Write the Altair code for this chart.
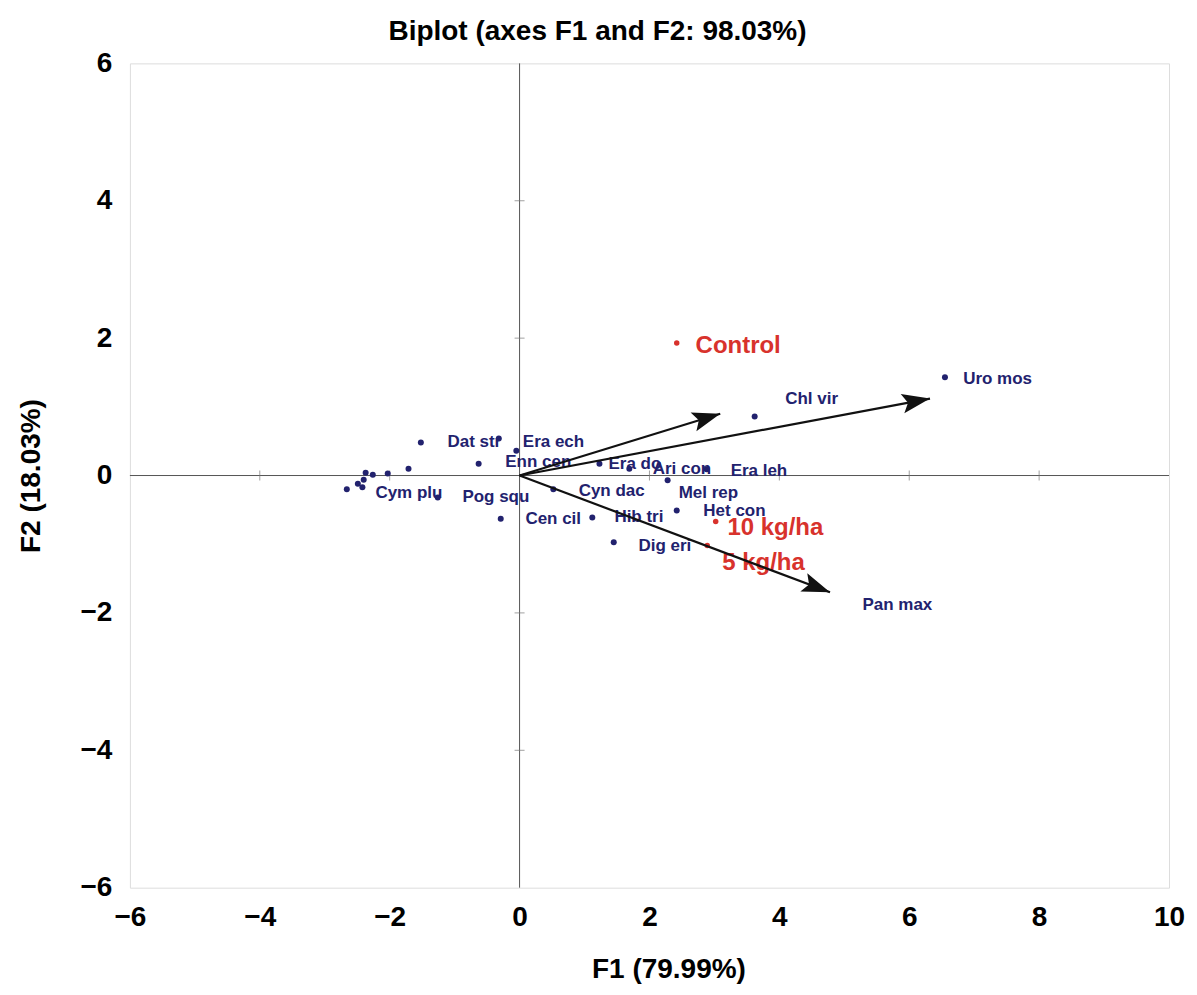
import math
import altair as alt
import pandas as pd

# ---- data ----
sp_names = ["Uro mos", "Chl vir", "Dat str", "Era ech", "Enn cen", "Era do", "Ari con",
            "Era leh", "Cym plu", "Pog squ", "Cyn dac", "Mel rep", "Cen cil", "Hib tri",
            "Het con", "Dig eri", "Pan max"]
sp_label_x = [6.83, 4.09, -1.11, 0.05, -0.22, 1.37, 2.05, 3.25, -2.22, -0.88, 0.91, 2.45,
              0.09, 1.46, 2.83, 1.83, 5.28]
sp_label_y = [1.40, 1.12, 0.49, 0.49, 0.19, 0.17, 0.09, 0.06, -0.26, -0.31, -0.22, -0.26,
              -0.63, -0.61, -0.51, -1.02, -1.88]

# species observation dots
dot_x = [6.55, 3.62, -1.52, -0.32, -0.05, -0.63, 1.23, 1.69, 2.88, -1.26, 0.52, 2.28,
         -0.29, 1.12, 2.42, 1.45,
         -2.66, -2.49, -2.42, -2.40, -2.37, -2.26, -2.03, -1.71]
dot_y = [1.43, 0.86, 0.48, 0.54, 0.36, 0.17, 0.17, 0.10, 0.09, -0.32, -0.20, -0.07,
         -0.63, -0.61, -0.51, -0.97,
         -0.20, -0.12, -0.17, -0.06, 0.04, 0.01, 0.03, 0.10]

# treatments (red)
tr_names = ["Control", "10 kg/ha", "5 kg/ha"]
tr_x = [2.42, 3.02, 2.89]
tr_y = [1.93, -0.67, -1.02]
tr_label_x = [2.71, 3.20, 3.12]
tr_label_y = [1.88, -0.77, -1.28]

# variable vectors (arrows from origin)
arrow_x = [3.09, 6.32, 4.78]
arrow_y = [0.90, 1.12, -1.70]

x_ticks = [-6, -4, -2, 0, 2, 4, 6, 8, 10]
y_ticks = [-6, -4, -2, 0, 2, 4, 6]
inner_x_ticks = [-4, -2, 2, 4, 6, 8]
inner_y_ticks = [-4, -2, 2, 4]

W, H = 1040, 825
XD, YD = (-6, 10), (-6, 6)
NAVY = "#22226e"
RED = "#d8322c"
FONT = "Liberation Sans"

xs = alt.Scale(domain=list(XD), nice=False, zero=False)
ys = alt.Scale(domain=list(YD), nice=False, zero=False)

# pixel-direction angle of each arrow (for rotating arrow heads)
px_per_x = W / (XD[1] - XD[0])
px_per_y = H / (YD[1] - YD[0])
angles = [(math.degrees(math.atan2(-ay * px_per_y, ax * px_per_x)) + 360) % 360
          for ax, ay in zip(arrow_x, arrow_y)]

sp_df = pd.DataFrame({"name": sp_names, "lx": sp_label_x, "ly": sp_label_y})
dot_df = pd.DataFrame({"x": dot_x, "y": dot_y})
tr_df = pd.DataFrame({"name": tr_names, "x": tr_x, "y": tr_y, "lx": tr_label_x, "ly": tr_label_y})
ar_df = pd.DataFrame({"x0": [0] * 3, "y0": [0] * 3, "x": arrow_x, "y": arrow_y, "angle": angles})
zero_df = pd.DataFrame({"v": [0]})
ixt_df = pd.DataFrame({"x": inner_x_ticks, "y": [0] * len(inner_x_ticks)})
iyt_df = pd.DataFrame({"x": [0] * len(inner_y_ticks), "y": inner_y_ticks})

x_axis = alt.Axis(values=x_ticks, format="d", title="F1 (79.99%)", grid=False, ticks=False, domain=False,
                  labelFont=FONT, labelFontSize=28, labelFontWeight="bold",
                  labelColor="black", labelPadding=16, labelFlush=False,
                  titleFont=FONT, titleFontSize=28, titleFontWeight="bold",
                  titleColor="black", titlePadding=24, titleX=539)
y_axis = alt.Axis(values=y_ticks, format="d", title="F2 (18.03%)", grid=False, ticks=False, domain=False,
                  labelFont=FONT, labelFontSize=28, labelFontWeight="bold",
                  labelColor="black", labelPadding=18, labelFlush=False,
                  titleFont=FONT, titleFontSize=28, titleFontWeight="bold",
                  titleColor="black", titleX=-84)

base = alt.Chart(dot_df)

dots = base.mark_circle(size=36, color=NAVY, opacity=1).encode(
    x=alt.X("x:Q", scale=xs, axis=x_axis),
    y=alt.Y("y:Q", scale=ys, axis=y_axis),
)

zero_v = alt.Chart(zero_df).mark_rule(color="#555555", strokeWidth=1).encode(x=alt.X("v:Q", scale=xs))
zero_h = alt.Chart(zero_df).mark_rule(color="#555555", strokeWidth=1).encode(y=alt.Y("v:Q", scale=ys))

ticks_x = alt.Chart(ixt_df).mark_tick(orient="vertical", size=10, color="#777777", thickness=1).encode(
    x=alt.X("x:Q", scale=xs), y=alt.Y("y:Q", scale=ys))
ticks_y = alt.Chart(iyt_df).mark_tick(orient="horizontal", size=10, color="#777777", thickness=1).encode(
    x=alt.X("x:Q", scale=xs), y=alt.Y("y:Q", scale=ys))

sp_text = alt.Chart(sp_df).mark_text(align="left", baseline="middle", font=FONT,
                                     fontSize=17, fontWeight="bold", color=NAVY).encode(
    x=alt.X("lx:Q", scale=xs), y=alt.Y("ly:Q", scale=ys), text="name:N")

tr_dots = alt.Chart(tr_df).mark_circle(size=30, color=RED, opacity=1).encode(
    x=alt.X("x:Q", scale=xs), y=alt.Y("y:Q", scale=ys))
tr_text = alt.Chart(tr_df).mark_text(align="left", baseline="middle", font=FONT,
                                     fontSize=24, fontWeight="bold", color=RED).encode(
    x=alt.X("lx:Q", scale=xs), y=alt.Y("ly:Q", scale=ys), text="name:N")

ar_lines = alt.Chart(ar_df).mark_rule(color="#111111", strokeWidth=2.2).encode(
    x=alt.X("x0:Q", scale=xs), y=alt.Y("y0:Q", scale=ys), x2="x:Q", y2="y:Q")
ar_heads = alt.Chart(ar_df).mark_point(
    shape="M0,0 L-2,-0.7 L-1.6,0 L-2,0.7 Z", filled=True, color="#111111", opacity=1,
    size=784, strokeWidth=0).encode(
    x=alt.X("x:Q", scale=xs), y=alt.Y("y:Q", scale=ys), angle=alt.Angle("angle:Q", scale=None))

chart = alt.layer(
    zero_v, zero_h, ticks_x, ticks_y, dots, sp_text, tr_dots, tr_text, ar_lines, ar_heads
).properties(
    width=W, height=H,
    title=alt.TitleParams("Biplot (axes F1 and F2: 98.03%)", font=FONT,
                          fontSize=28, fontWeight="bold", color="black", anchor="middle",
                          dx=-52, offset=3),
    autosize=alt.AutoSizeParams(type="none"),
    padding={"left": 122, "top": 55, "right": 20, "bottom": 106},
).configure_view(
    stroke="#b0b0b0", strokeWidth=1.5
).configure(background="white")

chart.save("out.html", embed_options={"renderer": "svg", "actions": False})
